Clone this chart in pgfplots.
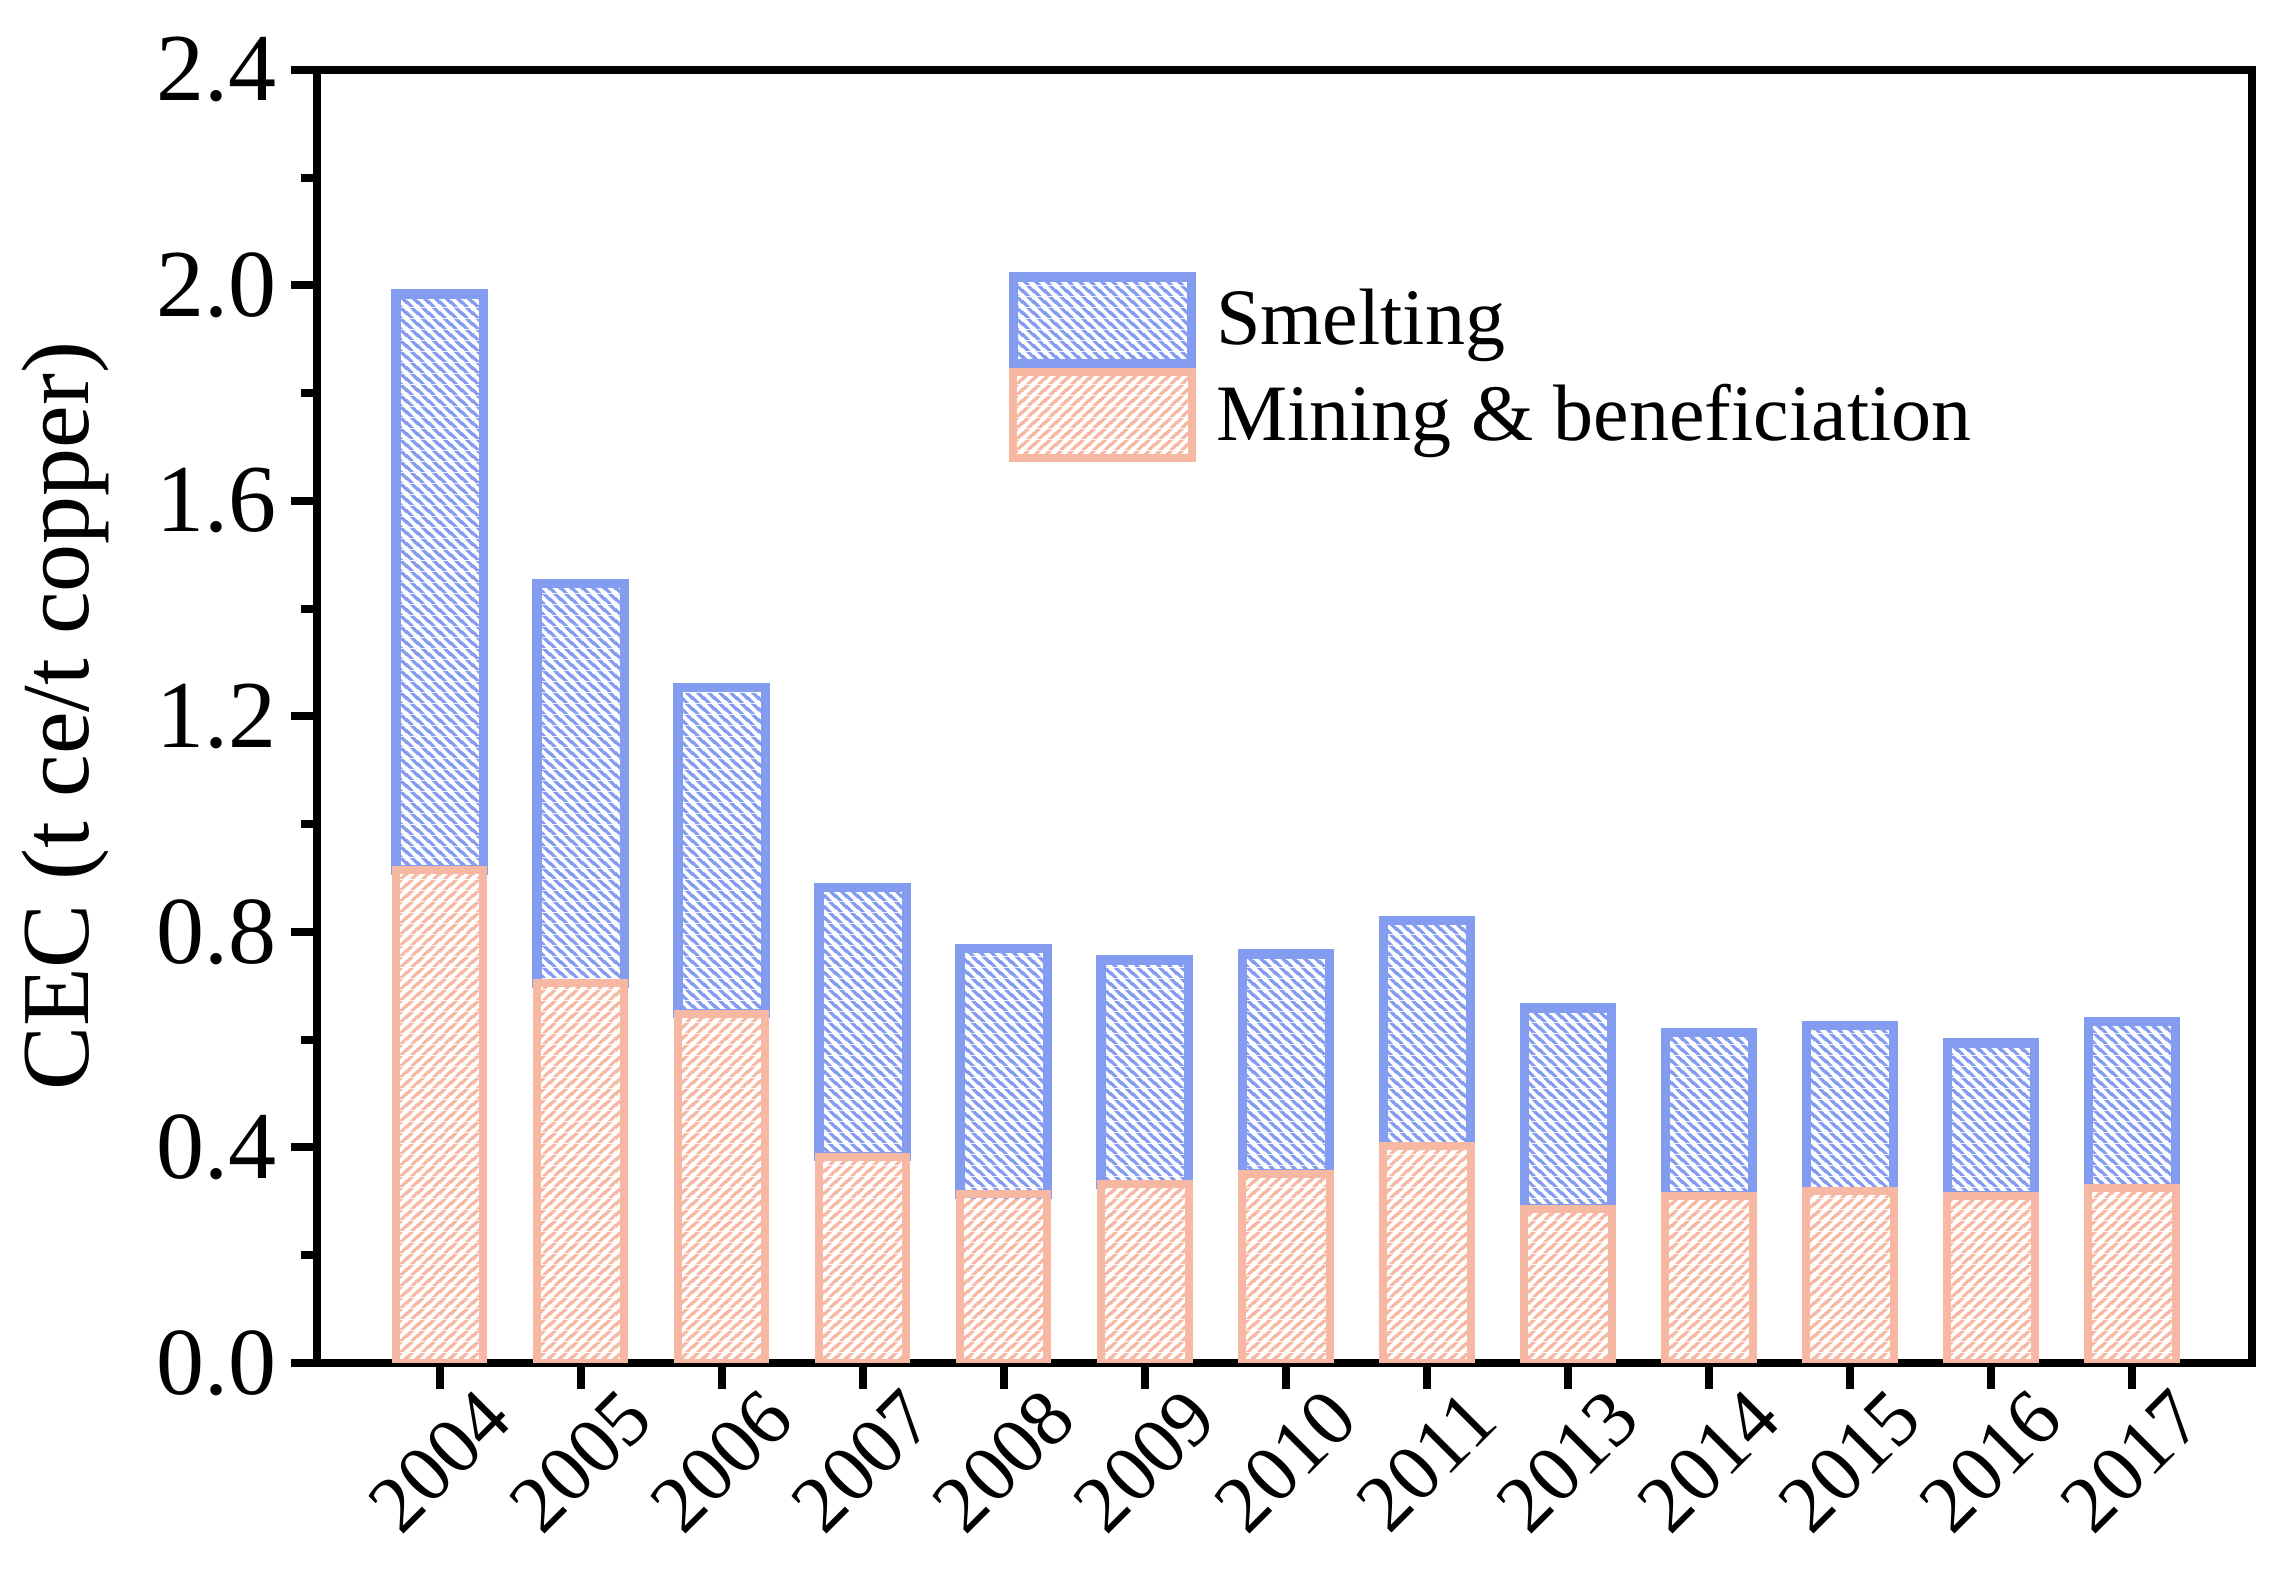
\documentclass[border=0pt]{standalone}
\usepackage{fontspec}
\setmainfont{Liberation Serif}
\usepackage{pgfplots}
\usepackage{pgfplotstable}
\pgfplotsset{compat=1.18}
\usetikzlibrary{patterns}
\definecolor{smblue}{RGB}{132,156,240}
\definecolor{mnsal}{RGB}{246,184,163}
\pgfdeclarepatterninherentlycolored{salNE}{\pgfqpoint{0pt}{0pt}}{\pgfqpoint{2.75pt}{2.75pt}}{\pgfqpoint{2.75pt}{2.75pt}}{%
  \pgfsetfillcolor{mnsal}%
  \pgfpathrectangle{\pgfqpoint{0pt}{0pt}}{\pgfqpoint{2.75pt}{2.75pt}}%
  \pgfusepath{fill}%
  \pgfsetstrokecolor{white}%
  \pgfsetlinewidth{1.0pt}%
  \pgfpathmoveto{\pgfqpoint{-0.5pt}{-0.5pt}}%
  \pgfpathlineto{\pgfqpoint{3.25pt}{3.25pt}}%
  \pgfpathmoveto{\pgfqpoint{-0.5pt}{2.25pt}}%
  \pgfpathlineto{\pgfqpoint{0.5pt}{3.25pt}}%
  \pgfpathmoveto{\pgfqpoint{2.25pt}{-0.5pt}}%
  \pgfpathlineto{\pgfqpoint{3.25pt}{0.5pt}}%
  \pgfusepath{stroke}}
\pgfdeclarepatterninherentlycolored{bluNW}{\pgfqpoint{0pt}{0pt}}{\pgfqpoint{2.75pt}{2.75pt}}{\pgfqpoint{2.75pt}{2.75pt}}{%
  \pgfsetfillcolor{smblue}%
  \pgfpathrectangle{\pgfqpoint{0pt}{0pt}}{\pgfqpoint{2.75pt}{2.75pt}}%
  \pgfusepath{fill}%
  \pgfsetstrokecolor{white}%
  \pgfsetlinewidth{1.0pt}%
  \pgfpathmoveto{\pgfqpoint{-0.5pt}{3.25pt}}%
  \pgfpathlineto{\pgfqpoint{3.25pt}{-0.5pt}}%
  \pgfpathmoveto{\pgfqpoint{-0.5pt}{0.5pt}}%
  \pgfpathlineto{\pgfqpoint{0.5pt}{-0.5pt}}%
  \pgfpathmoveto{\pgfqpoint{2.25pt}{3.25pt}}%
  \pgfpathlineto{\pgfqpoint{3.25pt}{2.25pt}}%
  \pgfusepath{stroke}}
\pgfplotstableread{
x year mining smelting
0 2004 0.915 1.069
1 2005 0.705 0.742
2 2006 0.648 0.605
3 2007 0.383 0.500
4 2008 0.313 0.456
5 2009 0.332 0.416
6 2010 0.351 0.408
7 2011 0.402 0.419
8 2013 0.286 0.373
9 2014 0.310 0.303
10 2015 0.319 0.307
11 2016 0.310 0.284
12 2017 0.324 0.310
}\datatable
\begin{document}
\begin{tikzpicture}
\begin{axis}[
  scale only axis, width=483.7pt, height=323.3pt,
  ybar stacked, bar width=0.62,
  xmin=-0.87, xmax=12.85, ymin=0, ymax=2.4,
  xtick=data, xticklabels from table={\datatable}{year},
  ytick={0,0.4,0.8,1.2,1.6,2.0,2.4}, minor y tick num=1,
  xtick pos=left, ytick pos=left, tick align=outside,
  major tick length=6.5pt, minor tick length=4pt,
  tick style={line width=2pt, black},
  axis line style={line width=2pt},
  /pgf/number format/assume math mode=true,
  yticklabel style={/pgf/number format/fixed, /pgf/number format/fixed zerofill, /pgf/number format/precision=1, font=\fontsize{24}{28}\selectfont},
  xticklabel style={rotate=45, anchor=center, font=\fontsize{20}{24}\selectfont},
  xticklabel shift=18pt,
  ylabel={CEC (t ce/t copper)},
  y label style={at={(axis description cs:-0.130,0.5)}, anchor=center, font=\fontsize{24}{28}\selectfont},
  legend cell align=left,
  legend style={draw=none, fill=none, at={(0.357,0.844)}, anchor=north west,
    font=\fontsize{20}{24}\selectfont, row sep=0pt, inner sep=0pt,
    /tikz/every odd column/.style={column sep=3pt}},
  legend image code/.code={\path[#1] (0pt,-10.8pt) rectangle (44.6pt,10.8pt);},
  reverse legend,
]
\addplot[pattern=salNE, draw=mnsal, line width=2pt]
  table[x=x, y=mining]{\datatable};
\addplot[pattern=bluNW, draw=smblue, line width=2.3pt]
  table[x=x, y=smelting]{\datatable};
\legend{Mining \& beneficiation, Smelting}
\end{axis}
\path (current axis.south west) ++(-79.25pt,-57.75pt) rectangle ++(570.25pt,398.5pt);
\end{tikzpicture}
\end{document}
